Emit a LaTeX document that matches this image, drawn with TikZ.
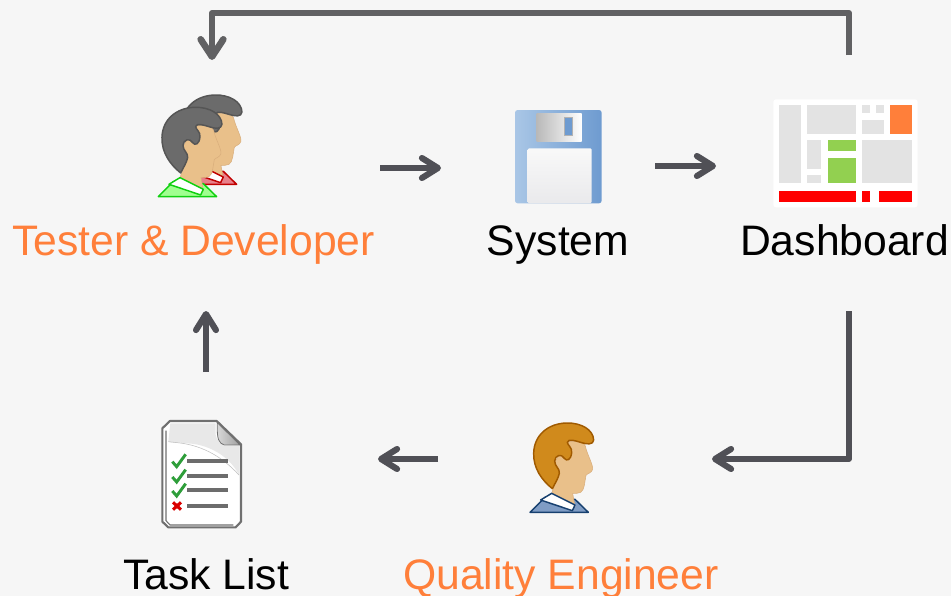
\documentclass[tikz,border=0pt]{standalone}
\usepackage{fontspec}
\setmainfont{Liberation Sans}
\usetikzlibrary{arrows.meta}
\definecolor{bgc}{HTML}{F6F6F6}
\definecolor{arrowc}{HTML}{505056}
\definecolor{arrowg}{HTML}{616163}
\definecolor{orangec}{HTML}{FF7F3A}
\definecolor{skin}{HTML}{E9C08A}
\definecolor{skinb}{HTML}{D9AE7C}
\definecolor{panelc}{HTML}{E3E3E3}
\definecolor{greenc}{HTML}{92D050}
\definecolor{hairg}{HTML}{6B6B6B}
\definecolor{hairgl}{HTML}{555555}
\definecolor{hairo}{HTML}{D08A1C}
\definecolor{hairol}{HTML}{A05A00}
\definecolor{coatb}{HTML}{7F9CC4}
\definecolor{coatbl}{HTML}{17406F}
\definecolor{coatr}{HTML}{E8808A}
\definecolor{coatrl}{HTML}{C00000}
\definecolor{coatg}{HTML}{A0FF90}
\definecolor{coatgl}{HTML}{10D010}
\definecolor{flopa}{HTML}{6E9BD0}
\definecolor{flopb}{HTML}{A9C6E6}
\definecolor{checkc}{HTML}{2E9E3A}
\definecolor{docl}{HTML}{707070}
\tikzset{
  x=0.75pt,y=-0.75pt,
  flow/.style={draw=arrowc,line width=4pt,-{Straight Barb[round,length=12pt,width=15pt,line width=4.6pt]},line join=round},
  flowtop/.style={draw=arrowg,line width=4.4pt,-{Straight Barb[round,length=13pt,width=17pt,line width=5pt]},line join=round},
  hit/.style={inner sep=0pt,outer sep=0pt,rectangle},
  label/.style={font=\fontsize{32pt}{35pt}\selectfont,text=black,inner sep=0pt,anchor=base},
  hilite/.style={label,text=orangec},
  zoomunit/.style={x=0.25pt,y=-0.25pt},
  panel/.style={fill=panelc},
  docline/.style={draw=gray!85!black,line width=3pt},
  checkmark/.style={draw=checkc,line width=2.2pt,line join=miter},
}
% person in crop units of a third of a pixel: x, y, hair, hair line, coat, coat line
\newcommand{\personicon}[6]{%
\begin{scope}[shift={(#1,#2)},zoomunit]
  \fill[#5,draw=#6,line width=1.1pt,line join=round] (60,307) -- (105,262) -- (195,268) -- (235,307) -- cycle;
  \fill[skin,draw=skinb,line width=.4pt] (172,95) .. controls (200,92) and (222,95) .. (226,108) .. controls (230,130) and (250,165) .. (248,178) .. controls (244,190) and (232,190) .. (228,196) .. controls (224,215) and (224,240) .. (212,247) .. controls (205,251) and (195,250) .. (188,250) -- (195,290) -- (125,250) -- (148,185) -- (135,155) -- cycle;
  \fill[white,draw=#6,line width=1.1pt,line join=round] (92,270) -- (125,250) -- (195,285) -- (187,302) -- cycle;
  \fill[#3,draw=#4,line width=1.1pt,line join=round] (127,236) .. controls (95,210) and (70,175) .. (71,130) .. controls (72,75) and (115,40) .. (170,39) .. controls (215,38) and (250,60) .. (251,90) .. controls (250,105) and (230,103) .. (215,98) .. controls (195,92) and (175,85) .. (172,97) .. controls (172,105) and (187,112) .. (185,128) .. controls (183,150) and (170,155) .. (163,145) .. controls (155,130) and (135,135) .. (134,153) .. controls (134,170) and (150,175) .. (148,190) .. controls (145,205) and (135,220) .. (127,236) -- cycle;
\end{scope}}
\begin{document}
\begin{tikzpicture}
\useasboundingbox (0,0) rectangle (951,596);
\fill[bgc] (0,0) rectangle (951,596);

% tester and developer
\personicon{158.3}{82}{hairg}{hairgl}{coatr}{coatrl}
\personicon{138.3}{94.3}{hairg}{hairgl}{coatg}{coatgl}

% floppy
\begin{scope}[shift={(500,95)},zoomunit]
  \shade[left color=flopb,right color=flopa,rounded corners=2pt] (45,45) rectangle (305,325);
  \shade[left color=gray!55,right color=white] (110,55) rectangle (245,138);
  \fill[flopa,draw=gray!60,line width=.5pt] (193,68) rectangle (218,122);
  \shade[top color=gray!5,bottom color=blue!6!gray!16,rounded corners=1pt] (83,160) rectangle (275,325);
\end{scope}

% dashboard
\begin{scope}[shift={(760,90)},zoomunit]
  \fill[white,rounded corners=2pt] (40,28) rectangle (473,352);
  \foreach \a/\b/\c/\d in {57/46/122/278,141/46/288/131,306/46/330/70,348/46/372/70,306/89/372/132,141/151/184/236,141/255/184/278,306/151/456/278}
    \fill[panel] (\a,\b) rectangle (\c,\d);
  \fill[orangec] (390,46) rectangle (456,132);
  \fill[greenc] (204,151) rectangle (288,184);
  \fill[greenc] (204,203) rectangle (288,278);
  \fill[red] (57,302) rectangle (288,335);
  \fill[red] (306,302) rectangle (330,335);
  \fill[red] (356,302) rectangle (456,335);
\end{scope}

% task list
\begin{scope}[shift={(145,410)},zoomunit]
  \fill[white,draw=docl,line width=1.6pt,line join=round] (75,33) -- (215,33) -- (288,103) -- (288,335) -- (272,352) -- (70,352) -- (52,335) -- (52,55) -- cycle;
  \fill[gray!18] (76,40) -- (212,40) -- (212,75) .. controls (220,100) and (230,104) .. (238,108) -- (282,108) -- (282,195) .. controls (255,140) and (190,100) .. (120,100) .. controls (100,95) and (85,100) .. (70,95) -- cycle;
  \draw[gray!50,line width=.4pt] (70,95) .. controls (100,100) and (190,95) .. (282,195);
  \draw[docl,line width=.8pt] (63,62) -- (63,332) -- (75,345) -- (265,345);
  \shade[left color=gray!30,right color=gray!75,draw=docl,line width=.6pt] (217,38) -- (285,105) -- (238,105) .. controls (222,100) and (215,90) .. (217,38) -- cycle;
  \foreach \y in {154,198,240,287}
    \draw[docline] (127,\y) -- (250,\y);
  \foreach \y in {0,46,88}
    \draw[checkmark] (82,155+\y) -- (95,170+\y) -- (122,133+\y);
  \draw[red!85!black,line width=2.3pt] (84,277) -- (108,299) (84,299) -- (108,277);
\end{scope}

% quality engineer
\personicon{510}{410}{hairo}{hairol}{coatb}{coatbl}

% labels
\node[hilite] (testerlabel) at (193.5,255) {Tester \& Developer};
\node[label] (systemlabel) at (558,255) {System};
\node[label] (dashlabel) at (844.5,255) {Dashboard};
\node[label] (tasklabel) at (206,589) {Task List};
\node[hilite] (qualitylabel) at (561,589) {Quality Engineer};

% extents of each icon with its label
\path (212,168) node[hit,minimum width=252pt,minimum height=162pt] (tester) {};
\path (548,168) node[hit,minimum width=160.5pt,minimum height=120pt] (system) {};
\path (849,166) node[hit,minimum width=153pt,minimum height=166.5pt] (dash) {};
\path (206,459) node[hit,minimum width=258pt,minimum height=130.5pt] (tasks) {};
\path (575,459) node[hit,minimum width=205.5pt,minimum height=90pt] (quality) {};

% connectors
\draw[flowtop] (dash.north) -- ++(0,-42) -| (tester.north);
\draw[flow] (tester.east) -- (system.west);
\draw[flow,shorten >=23.25pt] (system.east |- dash.west) -- (dash.west);
\draw[flow,shorten <=25.5pt] (dash.south) -- (dash.south |- quality.east) -- (quality.east);
\draw[flow] (quality.west) -- (tasks.east);
\draw[flow,shorten >=26.25pt] (tasks.north) -- (tasks.north |- tester.south);
\end{tikzpicture}
\end{document}
